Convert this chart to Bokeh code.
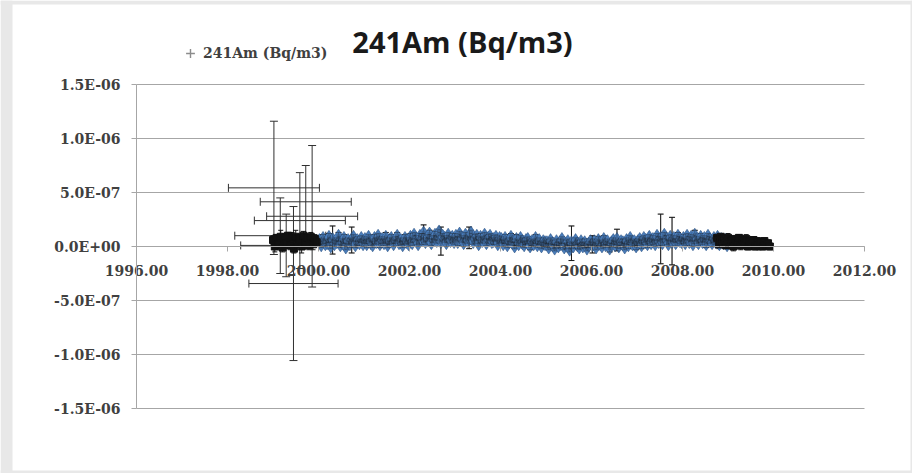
from bokeh.plotting import figure
from bokeh.models import (Range1d, FixedTicker, NumeralTickFormatter, ColumnDataSource,
                          Whisker, TeeHead, Label, Legend, LegendItem, BoxAnnotation)
from bokeh.embed import file_html
from bokeh.resources import INLINE

# ---------------- data ----------------
TITLE = "241Am (Bq/m3)"
SERIES = "241Am (Bq/m3)"

x_ticks = [1996, 1998, 2000, 2002, 2004, 2006, 2008, 2010, 2012]
y_ticks = [-1.5e-6, -1.0e-6, -5.0e-7, 0.0, 5.0e-7, 1.0e-6, 1.5e-6]
y_tick_labels = ["-1.5E-06", "-1.0E-06", "-5.0E-07", "0.0E+00", "5.0E-07", "1.0E-06", "1.5E-06"]

# early (annual-window) measurements with large uncertainties
early_years = [1999.02, 1999.16, 1999.29, 1999.45, 1999.59, 1999.72, 1999.86]
early_vals = [5.43e-7, 1.0e-7, 1.0e-8, -3.43e-7, 2.4e-7, 4.14e-7, 2.8e-7]
early_yerr = [6.17e-7, 3.5e-7, 2.9e-7, 7.13e-7, 4.44e-7, 3.36e-7, 6.55e-7]
early_xerr = [1.0, 1.0, 1.0, 0.98, 1.0, 1.0, 1.0]

UNIT = 1e-8  # dense series values below are given in units of 1e-8 Bq/m3

# dense weekly data, 1999
wk1_years = [1999.00, 1999.04, 1999.08, 1999.12, 1999.17, 1999.21, 1999.25, 1999.29,
             1999.33, 1999.38, 1999.42, 1999.46, 1999.50, 1999.54, 1999.58, 1999.63,
             1999.67, 1999.71, 1999.75, 1999.79, 1999.83, 1999.88, 1999.92, 1999.96]
wk1_vals = [6, 0, 8, 2, 9, -1, 7, 3, 10, 1, 8, -2, 9, 2, 7, 0, 10, 3, 8, 1, 9, 2, 7, 4]
wk1_yerr = [4, 5, 3, 4, 6, 4, 5, 5, 3, 4, 5, 4, 6, 3, 4, 6, 4, 5, 3, 4, 4, 5, 4, 3]

# half-monthly data 2000-2008
hm_years = [
    2000.02, 2000.06, 2000.10, 2000.15, 2000.19, 2000.23, 2000.27, 2000.31, 2000.35, 2000.40, 2000.44, 2000.48,
    2000.52, 2000.56, 2000.60, 2000.65, 2000.69, 2000.73, 2000.77, 2000.81, 2000.85, 2000.90, 2000.94, 2000.98,
    2001.02, 2001.06, 2001.10, 2001.15, 2001.19, 2001.23, 2001.27, 2001.31, 2001.35, 2001.40, 2001.44, 2001.48,
    2001.52, 2001.56, 2001.60, 2001.65, 2001.69, 2001.73, 2001.77, 2001.81, 2001.85, 2001.90, 2001.94, 2001.98,
    2002.02, 2002.06, 2002.10, 2002.15, 2002.19, 2002.23, 2002.27, 2002.31, 2002.35, 2002.40, 2002.44, 2002.48,
    2002.52, 2002.56, 2002.60, 2002.65, 2002.69, 2002.73, 2002.77, 2002.81, 2002.85, 2002.90, 2002.94, 2002.98,
    2003.02, 2003.06, 2003.10, 2003.15, 2003.19, 2003.23, 2003.27, 2003.31, 2003.35, 2003.40, 2003.44, 2003.48,
    2003.52, 2003.56, 2003.60, 2003.65, 2003.69, 2003.73, 2003.77, 2003.81, 2003.85, 2003.90, 2003.94, 2003.98,
    2004.02, 2004.06, 2004.10, 2004.15, 2004.19, 2004.23, 2004.27, 2004.31, 2004.35, 2004.40, 2004.44, 2004.48,
    2004.52, 2004.56, 2004.60, 2004.65, 2004.69, 2004.73, 2004.77, 2004.81, 2004.85, 2004.90, 2004.94, 2004.98,
    2005.02, 2005.06, 2005.10, 2005.15, 2005.19, 2005.23, 2005.27, 2005.31, 2005.35, 2005.40, 2005.44, 2005.48,
    2005.52, 2005.56, 2005.60, 2005.65, 2005.69, 2005.73, 2005.77, 2005.81, 2005.85, 2005.90, 2005.94, 2005.98,
    2006.02, 2006.06, 2006.10, 2006.15, 2006.19, 2006.23, 2006.27, 2006.31, 2006.35, 2006.40, 2006.44, 2006.48,
    2006.52, 2006.56, 2006.60, 2006.65, 2006.69, 2006.73, 2006.77, 2006.81, 2006.85, 2006.90, 2006.94, 2006.98,
    2007.02, 2007.06, 2007.10, 2007.15, 2007.19, 2007.23, 2007.27, 2007.31, 2007.35, 2007.40, 2007.44, 2007.48,
    2007.52, 2007.56, 2007.60, 2007.65, 2007.69, 2007.73, 2007.77, 2007.81, 2007.85, 2007.90, 2007.94, 2007.98,
    2008.02, 2008.06, 2008.10, 2008.15, 2008.19, 2008.23, 2008.27, 2008.31, 2008.35, 2008.40, 2008.44, 2008.48,
    2008.52, 2008.56, 2008.60, 2008.65, 2008.69, 2008.73, 2008.77, 2008.81, 2008.85, 2008.90, 2008.94, 2008.98,
]
hm_vals = [
    5, 2, 7, 3, 4, 8, 1, 6, 3, 5, 9, 2, 4, 7, 0, 5, 3, 6, 8, 2, 5, 4, 7, 3,
    6, 3, 8, 4, 2, 7, 5, 9, 3, 6, 4, 8, 2, 5, 7, 3, 6, 9, 4, 5, 2, 7, 5, 3,
    8, 4, 10, 6, 3, 9, 7, 12, 5, 8, 11, 4, 7, 10, 6, 13, 5, 9, 7, 4, 10, 6, 8, 5,
    9, 5, 11, 7, 4, 10, 6, 8, 12, 5, 7, 9, 3, 8, 6, 10, 4, 7, 9, 5, 6, 8, 3, 7,
    6, 3, 7, 2, 5, 8, 4, 1, 6, 3, 7, 4, 2, 5, 6, 1, 4, 3, 7, 2, 5, 1, 4, 3,
    3, 0, 5, 2, -1, 4, 1, 3, 6, 0, 2, 4, -2, 3, 1, 5, 2, 0, 4, 1, 3, -1, 2, 4,
    2, 4, 0, 5, 3, 1, 6, 2, 4, -1, 3, 5, 2, 6, 1, 4, 3, 0, 5, 2, 7, 3, 4, 1,
    4, 6, 2, 7, 5, 3, 8, 4, 6, 3, 9, 5, 7, 4, 10, 6, 3, 8, 5, 7, 4, 9, 6, 5,
    7, 4, 9, 5, 8, 3, 10, 6, 4, 8, 5, 7, 3, 9, 6, 4, 7, 5, 8, 3, 6, 4, 5, 2,
]
hm_yerr = [
    3, 3, 4, 3, 3, 4, 3, 13, 3, 3, 4, 3, 3, 4, 3, 3, 4, 12, 3, 3, 4, 3, 3, 3,
    3, 4, 3, 3, 3, 4, 3, 3, 4, 3, 3, 5, 3, 3, 4, 3, 3, 4, 3, 3, 3, 4, 3, 3,
    4, 3, 3, 4, 3, 3, 5, 8, 3, 3, 4, 3, 3, 4, 3, 3, 13, 3, 3, 4, 3, 3, 4, 3,
    3, 4, 3, 3, 4, 3, 3, 10, 3, 3, 4, 3, 3, 4, 3, 3, 3, 4, 3, 3, 4, 3, 3, 3,
    3, 3, 4, 3, 3, 4, 3, 3, 5, 3, 3, 4, 3, 3, 3, 4, 3, 3, 4, 3, 3, 3, 4, 3,
    4, 3, 3, 4, 3, 3, 3, 4, 3, 3, 4, 3, 3, 16, 3, 3, 4, 3, 3, 3, 4, 3, 3, 3,
    8, 3, 3, 4, 3, 3, 4, 3, 3, 4, 3, 3, 3, 10, 3, 3, 4, 3, 3, 4, 3, 3, 3, 4,
    3, 3, 4, 3, 3, 4, 3, 3, 4, 3, 3, 4, 23, 3, 3, 4, 3, 3, 22, 3, 3, 4, 3, 3,
    4, 3, 3, 4, 3, 3, 5, 3, 3, 4, 3, 3, 4, 3, 3, 4, 3, 3, 3, 4, 3, 3, 4, 3,
]

# dense weekly data, 2008-2009
wk2_years = [2008.76, 2008.80, 2008.84, 2008.88, 2008.92, 2008.96, 2009.00, 2009.04,
             2009.08, 2009.12, 2009.16, 2009.20, 2009.24, 2009.28, 2009.32, 2009.36,
             2009.40, 2009.44, 2009.48, 2009.52, 2009.56, 2009.60, 2009.64, 2009.68,
             2009.72, 2009.76, 2009.80, 2009.84, 2009.88, 2009.92]
wk2_vals = [8, 2, 9, 3, 7, 1, 8, 2, 6, 0, 7, 3, 8, 1, 6, 2, 7, 0, 5, 2, 6, 0, 5, 1, 4, 0, 5, 1, 3, 0]
wk2_yerr = [3, 4, 3, 4, 3, 3, 4, 3, 3, 4, 3, 4, 3, 4, 3, 3, 4, 3, 3, 4, 3, 3, 3, 4, 3, 3, 3, 3, 3, 3]
wk_xerr = 0.04
hm_xerr = 0.03

# ---------------- layout / styling constants ----------------
AXIS_GRAY = "#a6a6a6"
TEXT_GRAY = "#404040"
LABEL_FONT = "DejaVu Serif"
W, H = 912, 473
PLOT_LEFT, PLOT_RIGHT, PLOT_TOP, PLOT_BOTTOM = 136, 48, 84, 65   # px around the data area
X0, X1, Y0, Y1 = 1996, 2012, -1.5e-6, 1.5e-6
px_x = (W - PLOT_LEFT - PLOT_RIGHT) / (X1 - X0)
px_y = (H - PLOT_TOP - PLOT_BOTTOM) / (Y1 - Y0)
XMIN, XMAX = X0 - PLOT_LEFT / px_x, X1 + PLOT_RIGHT / px_x
YMIN, YMAX = Y0 - PLOT_BOTTOM / px_y, Y1 + PLOT_TOP / px_y

p = figure(width=W, height=H, title=None,
           x_range=Range1d(XMIN, XMAX), y_range=Range1d(YMIN, YMAX),
           output_backend="svg", toolbar_location=None,
           min_border_left=0, min_border_right=0, min_border_top=0, min_border_bottom=0,
           background_fill_color="white", border_fill_color="white")
p.outline_line_color = None

# grey window margin around the white chart area
BG = "#e8e8e8"
for kw in (dict(right=XMIN + 12 / px_x), dict(left=XMIN + 910 / px_x),
           dict(bottom=YMAX - 4 / px_y), dict(top=YMIN + 3 / px_y)):
    p.add_layout(BoxAnnotation(fill_color=BG, fill_alpha=1, line_color=None, level="underlay", **kw))

# gridlines, only across the data area
p.xgrid.visible = False
p.ygrid.visible = False
p.segment(x0=[X0] * len(y_ticks), x1=[X1] * len(y_ticks), y0=y_ticks, y1=y_ticks,
          line_color=AXIS_GRAY, line_width=1, level="underlay")

# axes drawn inside the data area (Excel style), crossing at y=0 and x=1996
p.xaxis.ticker = FixedTicker(ticks=x_ticks)
p.xaxis.formatter = NumeralTickFormatter(format="0.00")
p.xaxis.fixed_location = 0
p.xaxis.bounds = (X0, X1)
p.yaxis.ticker = FixedTicker(ticks=y_ticks)
p.yaxis.fixed_location = X0
p.yaxis.bounds = (Y0, Y1)
p.yaxis.major_label_overrides = dict(zip(y_ticks, y_tick_labels))

for ax in (p.xaxis, p.yaxis):
    ax.axis_line_color = AXIS_GRAY
    ax.major_tick_line_color = AXIS_GRAY
    ax.major_tick_out = 5
    ax.major_tick_in = 0
    ax.minor_tick_line_color = None
    ax.major_label_text_font = LABEL_FONT
    ax.major_label_text_font_size = "14px"
    ax.major_label_text_font_style = "bold"
    ax.major_label_text_color = TEXT_GRAY
p.xaxis.major_label_standoff = 13
p.yaxis.major_label_standoff = 11

def dense_source(xs, vals, errs, xerr):
    ys = [v * UNIT for v in vals]
    es = [e * UNIT for e in errs]
    return ColumnDataSource(dict(
        x=xs, y=ys,
        lo=[y - e for y, e in zip(ys, es)], hi=[y + e for y, e in zip(ys, es)],
        xlo=[x - xerr for x in xs], xhi=[x + xerr for x in xs]))

def add_errorbars(src, color, head, width=1.0, alpha=1.0, level="underlay"):
    for dim, base, lo, hi in (("height", "x", "lo", "hi"), ("width", "y", "xlo", "xhi")):
        w = Whisker(source=src, base=base, lower=lo, upper=hi, dimension=dim, level=level,
                    line_color=color, line_width=width, line_alpha=alpha,
                    upper_head=TeeHead(size=head, line_color=color, line_width=width, line_alpha=alpha),
                    lower_head=TeeHead(size=head, line_color=color, line_width=width, line_alpha=alpha))
        p.add_layout(w)

# early points
src_early = ColumnDataSource(dict(
    x=early_years, y=early_vals,
    lo=[v - e for v, e in zip(early_vals, early_yerr)],
    hi=[v + e for v, e in zip(early_vals, early_yerr)],
    xlo=[x - e for x, e in zip(early_years, early_xerr)],
    xhi=[x + e for x, e in zip(early_years, early_xerr)]))
add_errorbars(src_early, "#303030", 8)

src_wk1 = dense_source(wk1_years, wk1_vals, wk1_yerr, wk_xerr)
src_hm = dense_source(hm_years, hm_vals, hm_yerr, hm_xerr)
src_wk2 = dense_source(wk2_years, wk2_vals, wk2_yerr, wk_xerr)

add_errorbars(src_hm, "#1a1a1a", 6)
p.scatter("x", "y", source=src_hm, marker="diamond", size=15,
          fill_color="#4a7dbb", line_color="#2f5586", line_width=0.6)
add_errorbars(src_hm, "#1a1a1a", 5, alpha=0.35, level="overlay")
add_errorbars(src_wk1, "#111111", 5)
add_errorbars(src_wk2, "#111111", 5)
p.scatter("x", "y", source=src_wk1, marker="square", size=7, color="#111111")
p.scatter("x", "y", source=src_wk2, marker="square", size=7, color="#111111")

# legend proxy (a single invisible point so the legend can draw its glyph)
proxy = p.scatter(x=[float("nan")], y=[float("nan")], marker="cross", size=12,
                  line_color="#8c8c8c", line_width=1.4)
legend = Legend(items=[LegendItem(label=SERIES, renderers=[proxy])],
                location=(179, 409), border_line_color=None, background_fill_alpha=0,
                padding=0, margin=0, glyph_width=22, glyph_height=22, label_height=22,
                label_standoff=2,
                label_text_font=LABEL_FONT, label_text_font_size="14px",
                label_text_font_style="bold", label_text_color=TEXT_GRAY)
p.add_layout(legend)

title = Label(x=X0 + 326 / px_x, y=Y1 + 43 / px_y, text=TITLE,
              text_align="center", text_baseline="middle",
              text_font="Open Sans", text_font_size="29px", text_font_style="bold",
              text_color="#1a1a1a")
p.add_layout(title)

open("out.html", "w").write(file_html(p, INLINE))
